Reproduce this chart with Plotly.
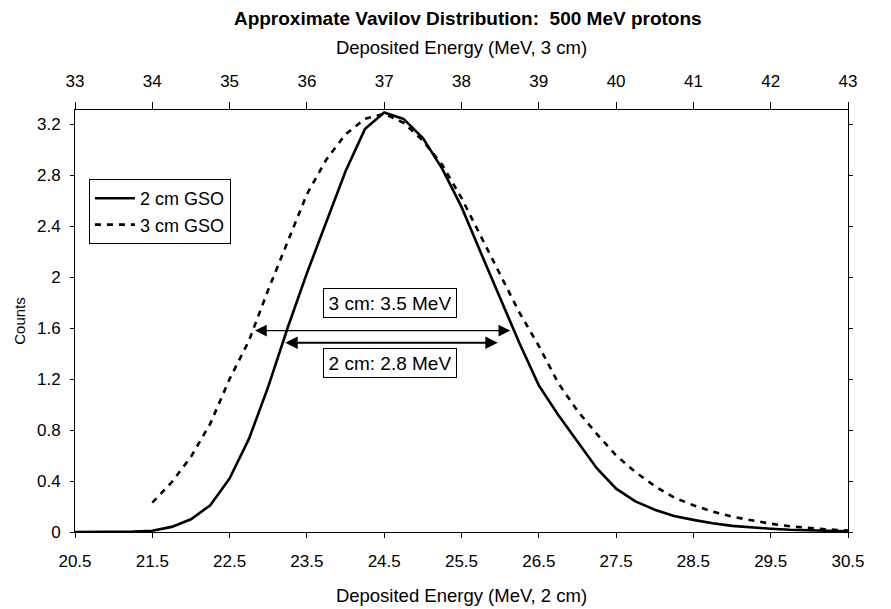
import plotly.graph_objects as go

# ---------------- data ----------------
# 2 cm GSO (bottom axis, MeV)
x_2cm = [20.5, 20.75, 21.0, 21.25, 21.5, 21.75, 22.0, 22.25, 22.5, 22.75,
         23.0, 23.25, 23.5, 23.75, 24.0, 24.25, 24.5, 24.75, 25.0, 25.25,
         25.5, 25.75, 26.0, 26.25, 26.5, 26.75, 27.0, 27.25, 27.5, 27.75,
         28.0, 28.25, 28.5, 28.75, 29.0, 29.25, 29.5, 29.75, 30.0, 30.25, 30.5]
y_2cm = [0.0, 0.0, 0.0, 0.003, 0.01, 0.04, 0.10, 0.21, 0.42, 0.73,
         1.14, 1.60, 2.03, 2.43, 2.83, 3.16, 3.29, 3.24, 3.09, 2.85,
         2.55, 2.19, 1.83, 1.48, 1.15, 0.92, 0.71, 0.50, 0.34, 0.24,
         0.175, 0.125, 0.095, 0.068, 0.048, 0.036, 0.026, 0.018, 0.012, 0.008, 0.005]

# 3 cm GSO (top axis, MeV)
x_3cm = [34.0, 34.25, 34.5, 34.75, 35.0, 35.25, 35.5, 35.75, 36.0, 36.25,
         36.5, 36.75, 37.0, 37.25, 37.5, 37.75, 38.0, 38.25, 38.5, 38.75,
         39.0, 39.25, 39.5, 39.75, 40.0, 40.25, 40.5, 40.75, 41.0, 41.25,
         41.5, 41.75, 42.0, 42.25, 42.5, 42.75, 43.0]
y_3cm = [0.23, 0.39, 0.59, 0.85, 1.20, 1.50, 1.90, 2.28, 2.65, 2.92,
         3.12, 3.24, 3.28, 3.21, 3.07, 2.88, 2.62, 2.32, 2.02, 1.72,
         1.46, 1.17, 0.95, 0.77, 0.60, 0.47, 0.36, 0.27, 0.21, 0.16,
         0.12, 0.09, 0.065, 0.045, 0.03, 0.02, 0.012]

# FWHM arrows (bottom-axis units)
arrow_3cm_x = [22.81, 26.13]
arrow_3cm_y = 1.58
arrow_2cm_x = [23.20, 25.97]
arrow_2cm_y = 1.485
label_3cm = "3 cm: 3.5 MeV"
label_2cm = "2 cm: 2.8 MeV"
label_x = 24.57
label_3cm_y = 1.80
label_2cm_y = 1.325

# axes
x_bottom_ticks = [20.5, 21.5, 22.5, 23.5, 24.5, 25.5, 26.5, 27.5, 28.5, 29.5, 30.5]
x_top_ticks = [33, 34, 35, 36, 37, 38, 39, 40, 41, 42, 43]
y_ticks = [0, 0.4, 0.8, 1.2, 1.6, 2.0, 2.4, 2.8, 3.2]
y_ticktext = ["0", "0.4", "0.8", "1.2", "1.6", "2", "2.4", "2.8", "3.2"]
y_range = [0, 3.31]

FONT = "Liberation Sans, Arial, sans-serif"

fig = go.Figure()
fig.add_trace(go.Scatter(x=x_2cm, y=y_2cm, mode="lines", name="2 cm GSO",
                         line=dict(color="black", width=2.6),
                         xaxis="x", yaxis="y"))
fig.add_trace(go.Scatter(x=x_3cm, y=y_3cm, mode="lines", name="3 cm GSO",
                         line=dict(color="black", width=2.6, dash="6px,6px"),
                         xaxis="x2", yaxis="y"))

annotations = []
for xs, yv, w, s in [(arrow_3cm_x, arrow_3cm_y, 1.3, 1.8), (arrow_2cm_x, arrow_2cm_y, 2.0, 1.25)]:
    annotations.append(dict(x=xs[1], y=yv, ax=xs[0], ay=yv, xref="x", yref="y",
                            axref="x", ayref="y", text="", showarrow=True,
                            arrowhead=2, arrowside="end+start", arrowsize=s,
                            arrowwidth=w, arrowcolor="black", standoff=0,
                            startstandoff=0))
for txt, yv in [(label_3cm, label_3cm_y), (label_2cm, label_2cm_y)]:
    annotations.append(dict(x=label_x, y=yv, xref="x", yref="y", text=txt,
                            showarrow=False, font=dict(family=FONT, size=19, color="black"),
                            bordercolor="black", borderwidth=1, borderpad=3,
                            bgcolor="white", width=126, height=22))

axis_common = dict(showline=True, linecolor="black", linewidth=1, showgrid=False,
                   zeroline=False, tickcolor="black",
                   tickfont=dict(family=FONT, size=17, color="black"))

fig.update_layout(
    width=891, height=609,
    margin=dict(l=75, r=43, t=110, b=77),
    paper_bgcolor="white", plot_bgcolor="white",
    font=dict(family=FONT, color="black"),
    title=dict(text="Approximate Vavilov Distribution:  500 MeV protons",
               font=dict(family=FONT, size=19, color="black", weight="bold"),
               x=0.525, xanchor="center", y=1 - 18 / 609, yanchor="middle"),
    showlegend=True,
    legend=dict(x=0.018, y=0.8365, xanchor="left", yanchor="top",
                bordercolor="black", borderwidth=1, bgcolor="white",
                font=dict(family=FONT, size=18, color="black"),
                tracegroupgap=0, itemwidth=40),
    xaxis=dict(range=[20.5, 30.5], tickvals=x_bottom_ticks, ticks="outside",
               ticklen=5, ticklabelstandoff=9, automargin=False,
               title=dict(text="Deposited Energy (MeV, 2 cm)",
                          font=dict(family=FONT, size=18.5, color="black"), standoff=18),
               **axis_common),
    xaxis2=dict(range=[33, 43], tickvals=x_top_ticks, overlaying="x", side="top",
                anchor="y", ticks="outside", ticklen=7, ticklabelstandoff=8,
                automargin=False,
                title=dict(text="Deposited Energy (MeV, 3 cm)",
                           font=dict(family=FONT, size=18.5, color="black"), standoff=12),
                **axis_common),
    yaxis=dict(range=y_range, tickvals=y_ticks, ticktext=y_ticktext, ticks="outside",
               ticklen=4, ticklabelstandoff=6, mirror="ticks", automargin=False,
               title=dict(text="Counts", font=dict(family=FONT, size=15, color="black"),
                          standoff=7),
               **axis_common),
    yaxis2=dict(range=y_range, tickvals=y_ticks, ticktext=y_ticktext, overlaying="y",
                side="right", anchor="x", ticks="inside", ticklen=4,
                ticklabelstandoff=5, automargin=False, **axis_common),
    annotations=annotations,
)

fig.write_html("out.html")
